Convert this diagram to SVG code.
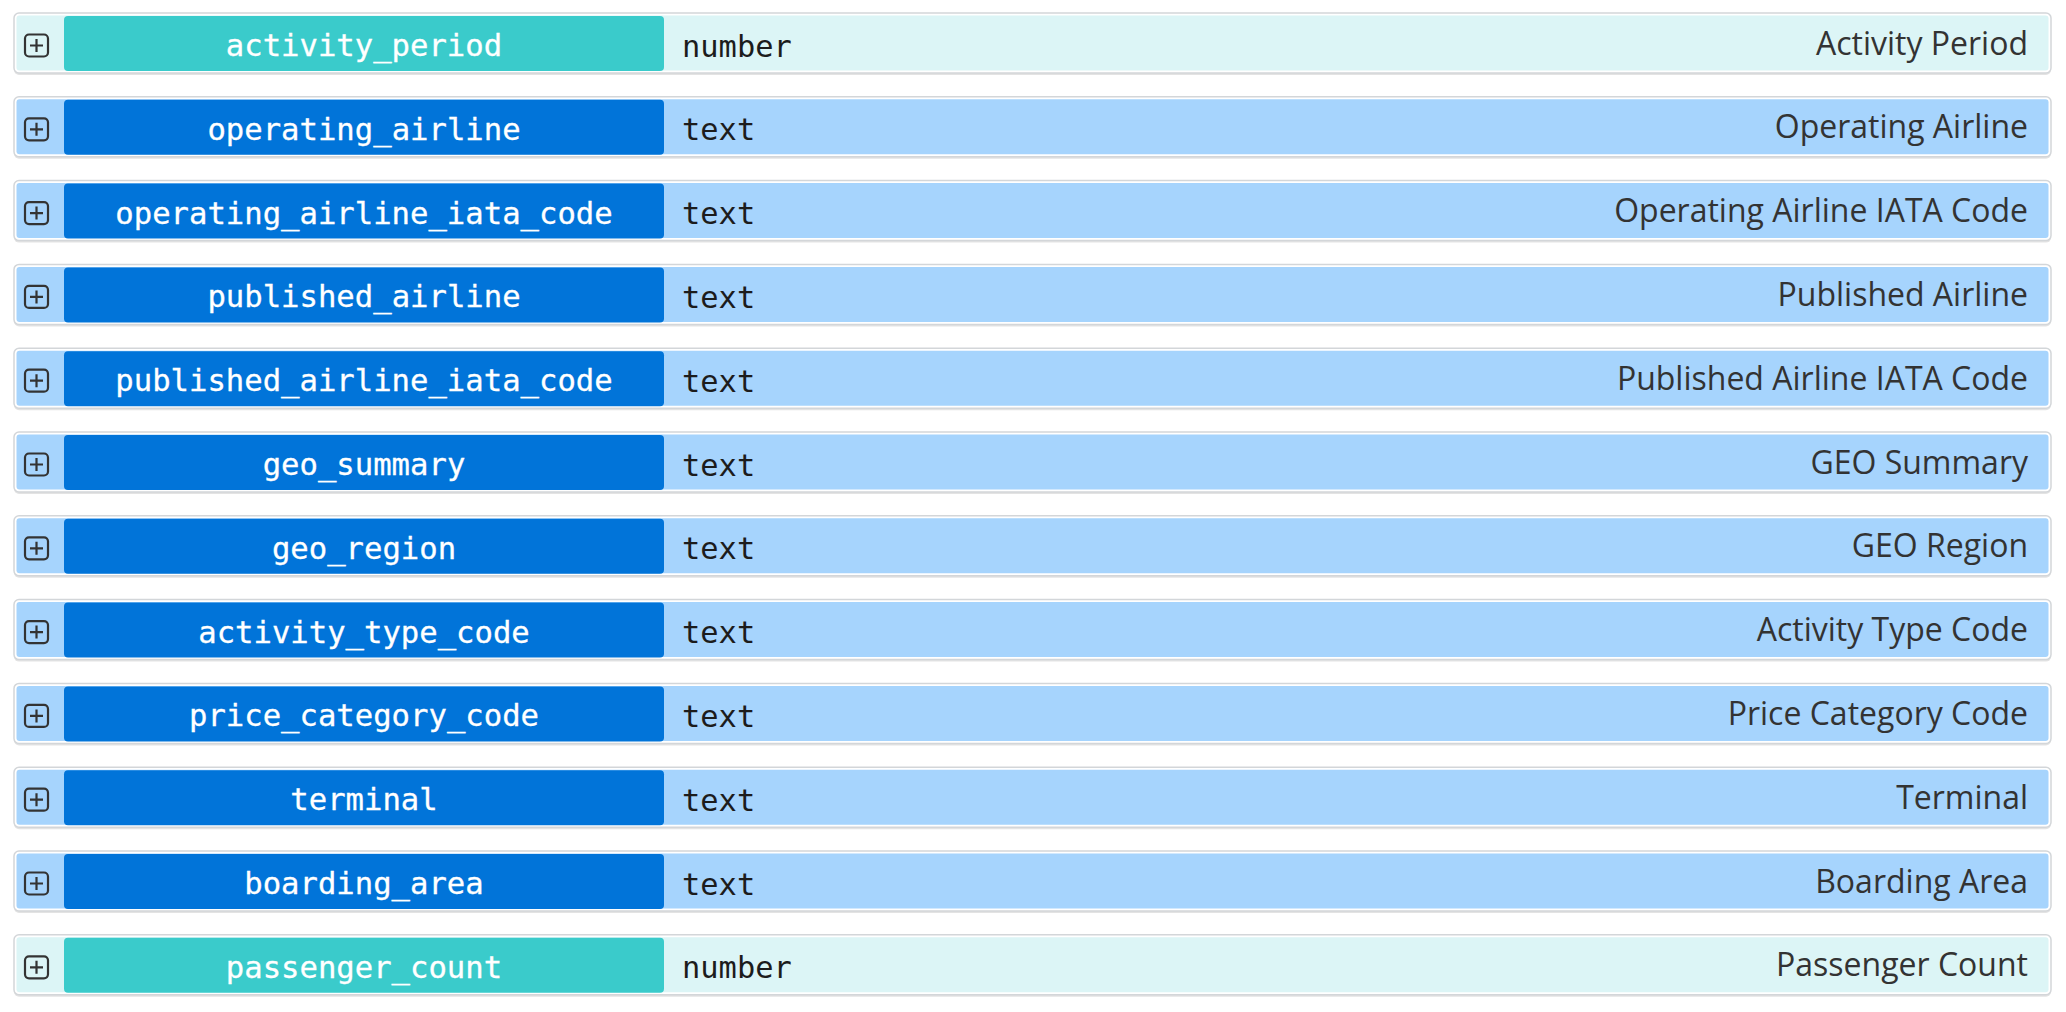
<svg xmlns="http://www.w3.org/2000/svg" width="2066" height="1012" viewBox="0 0 2066 1012">
<defs>
<style>
.frame{fill:#ffffff;stroke:#d3d6d9;stroke-width:1.5}
.shadow{fill:#e3e3e3}
.num .body{fill:#dcf5f6}
.num .key{fill:#3acbcb}
.txt .body{fill:#a6d4fd}
.txt .key{fill:#0174d9}
.icon{fill:none;stroke:#333333;stroke-width:2.2}
.name{font-family:"DejaVu Sans Mono",monospace;font-size:30.6px;fill:#ffffff;text-anchor:middle;stroke:#ffffff;stroke-width:0.3}
.type{font-family:"DejaVu Sans Mono",monospace;font-size:30.4px;fill:#1c1c1c}
.label{font-family:"Open Sans","Noto Sans",sans-serif;font-size:32px;fill:#333333;text-anchor:end}
</style>
<g id="rowbase">
<rect class="shadow" x="14" y="15" width="2037" height="60" rx="5"/>
<rect class="frame" x="14" y="13" width="2037" height="60" rx="5"/>
</g>
<g id="plus">
<rect class="icon" x="25" y="34.5" width="23" height="22" rx="4"/>
<path class="icon" d="M30 45.5H43M36.5 39V52"/>
</g>
</defs>
<g id="row-activity_period" class="num" transform="translate(0,0)">
<use href="#rowbase"/><rect class="body" x="16.5" y="15.5" width="2032" height="55" rx="3"/><rect class="key" x="64" y="16" width="600" height="55" rx="4"/><use href="#plus"/>
<text class="name" x="364" y="56">activity_period</text><text class="type" x="682" y="56.5">number</text><text class="label" x="2028" y="54.5">Activity Period</text>
</g>
<g id="row-operating_airline" class="txt" transform="translate(0,83.8)">
<use href="#rowbase"/><rect class="body" x="16.5" y="15.5" width="2032" height="55" rx="3"/><rect class="key" x="64" y="16" width="600" height="55" rx="4"/><use href="#plus"/>
<text class="name" x="364" y="56">operating_airline</text><text class="type" x="682" y="56.5">text</text><text class="label" x="2028" y="54.5">Operating Airline</text>
</g>
<g id="row-operating_airline_iata_code" class="txt" transform="translate(0,167.6)">
<use href="#rowbase"/><rect class="body" x="16.5" y="15.5" width="2032" height="55" rx="3"/><rect class="key" x="64" y="16" width="600" height="55" rx="4"/><use href="#plus"/>
<text class="name" x="364" y="56">operating_airline_iata_code</text><text class="type" x="682" y="56.5">text</text><text class="label" x="2028" y="54.5">Operating Airline IATA Code</text>
</g>
<g id="row-published_airline" class="txt" transform="translate(0,251.4)">
<use href="#rowbase"/><rect class="body" x="16.5" y="15.5" width="2032" height="55" rx="3"/><rect class="key" x="64" y="16" width="600" height="55" rx="4"/><use href="#plus"/>
<text class="name" x="364" y="56">published_airline</text><text class="type" x="682" y="56.5">text</text><text class="label" x="2028" y="54.5">Published Airline</text>
</g>
<g id="row-published_airline_iata_code" class="txt" transform="translate(0,335.2)">
<use href="#rowbase"/><rect class="body" x="16.5" y="15.5" width="2032" height="55" rx="3"/><rect class="key" x="64" y="16" width="600" height="55" rx="4"/><use href="#plus"/>
<text class="name" x="364" y="56">published_airline_iata_code</text><text class="type" x="682" y="56.5">text</text><text class="label" x="2028" y="54.5">Published Airline IATA Code</text>
</g>
<g id="row-geo_summary" class="txt" transform="translate(0,419)">
<use href="#rowbase"/><rect class="body" x="16.5" y="15.5" width="2032" height="55" rx="3"/><rect class="key" x="64" y="16" width="600" height="55" rx="4"/><use href="#plus"/>
<text class="name" x="364" y="56">geo_summary</text><text class="type" x="682" y="56.5">text</text><text class="label" x="2028" y="54.5">GEO Summary</text>
</g>
<g id="row-geo_region" class="txt" transform="translate(0,502.8)">
<use href="#rowbase"/><rect class="body" x="16.5" y="15.5" width="2032" height="55" rx="3"/><rect class="key" x="64" y="16" width="600" height="55" rx="4"/><use href="#plus"/>
<text class="name" x="364" y="56">geo_region</text><text class="type" x="682" y="56.5">text</text><text class="label" x="2028" y="54.5">GEO Region</text>
</g>
<g id="row-activity_type_code" class="txt" transform="translate(0,586.6)">
<use href="#rowbase"/><rect class="body" x="16.5" y="15.5" width="2032" height="55" rx="3"/><rect class="key" x="64" y="16" width="600" height="55" rx="4"/><use href="#plus"/>
<text class="name" x="364" y="56">activity_type_code</text><text class="type" x="682" y="56.5">text</text><text class="label" x="2028" y="54.5">Activity Type Code</text>
</g>
<g id="row-price_category_code" class="txt" transform="translate(0,670.4)">
<use href="#rowbase"/><rect class="body" x="16.5" y="15.5" width="2032" height="55" rx="3"/><rect class="key" x="64" y="16" width="600" height="55" rx="4"/><use href="#plus"/>
<text class="name" x="364" y="56">price_category_code</text><text class="type" x="682" y="56.5">text</text><text class="label" x="2028" y="54.5">Price Category Code</text>
</g>
<g id="row-terminal" class="txt" transform="translate(0,754.2)">
<use href="#rowbase"/><rect class="body" x="16.5" y="15.5" width="2032" height="55" rx="3"/><rect class="key" x="64" y="16" width="600" height="55" rx="4"/><use href="#plus"/>
<text class="name" x="364" y="56">terminal</text><text class="type" x="682" y="56.5">text</text><text class="label" x="2028" y="54.5">Terminal</text>
</g>
<g id="row-boarding_area" class="txt" transform="translate(0,838)">
<use href="#rowbase"/><rect class="body" x="16.5" y="15.5" width="2032" height="55" rx="3"/><rect class="key" x="64" y="16" width="600" height="55" rx="4"/><use href="#plus"/>
<text class="name" x="364" y="56">boarding_area</text><text class="type" x="682" y="56.5">text</text><text class="label" x="2028" y="54.5">Boarding Area</text>
</g>
<g id="row-passenger_count" class="num" transform="translate(0,921.8)">
<use href="#rowbase"/><rect class="body" x="16.5" y="15.5" width="2032" height="55" rx="3"/><rect class="key" x="64" y="16" width="600" height="55" rx="4"/><use href="#plus"/>
<text class="name" x="364" y="56">passenger_count</text><text class="type" x="682" y="56.5">number</text><text class="label" x="2028" y="54.5">Passenger Count</text>
</g>
<g id="connectors"/>
</svg>
